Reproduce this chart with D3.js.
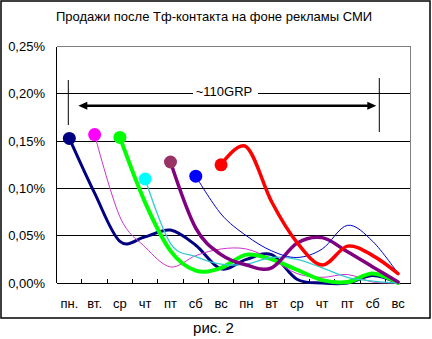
<!DOCTYPE html>
<html><head><meta charset="utf-8">
<script src="https://cdnjs.cloudflare.com/ajax/libs/d3/7.8.5/d3.min.js"></script>
<style>
html,body{margin:0;padding:0;background:#fff;}
svg{display:block;font-family:"Liberation Sans",Arial,sans-serif;}
</style></head>
<body>
<script>
const title = "Продажи после Тф-контакта на фоне рекламы СМИ";
const caption = "рис. 2";
const annotationText = "~110GRP";
const categories = ["пн.","вт.","ср","чт","пт","сб","вс","пн","вт","ср","чт","пт","сб","вс"];
const yTicks = [0, 0.05, 0.10, 0.15, 0.20, 0.25];
const navyValues    = [0.153,0.095,0.044,0.049,0.056,0.040,0.015,0.025,0.030,0.004,0.000,0.000,0.008,0.000];
const magentaValues = [null,0.157,0.070,0.038,0.017,0.029,0.036,0.036,0.025,0.010,0.006,0.009,0.001,0.000];
const greenValues   = [null,null,0.154,0.085,0.034,0.013,0.016,0.030,0.025,0.014,0.003,0.001,0.010,0.000];
const cyanValues    = [null,null,null,0.110,0.042,0.028,0.020,0.020,0.027,0.025,0.016,0.006,0.002,0.000];
const purpleValues  = [null,null,null,null,0.128,0.058,0.030,0.019,0.016,0.042,0.048,0.033,0.017,0.001];
const blueValues    = [null,null,null,null,null,0.113,0.073,0.050,0.034,0.027,0.036,0.061,0.044,0.010];
const redValues     = [null,null,null,null,null,null,0.125,0.144,0.086,0.043,0.019,0.039,0.029,0.010];

const seriesStyles = [
  {values: navyValues,    line:"#000080", marker:"#000080", w:3},
  {values: magentaValues, line:"#CC33CC", marker:"#FF00FF", w:1},
  {values: greenValues,   line:"#00FF00", marker:"#00FF00", w:4},
  {values: cyanValues,    line:"#33CCCC", marker:"#00FFFF", w:1.3},
  {values: purpleValues,  line:"#800080", marker:"#993366", w:3.5},
  {values: blueValues,    line:"#0000CC", marker:"#0000FF", w:1},
  {values: redValues,     line:"#FF0000", marker:"#FF0000", w:3.5}
];

const W = 432, H = 339;
const svg = d3.select("body").append("svg").attr("width", W).attr("height", H);

// outer frame
svg.append("rect").attr("x",1).attr("y",1).attr("width",429).attr("height",317)
  .attr("fill","#fff").attr("stroke","#000").attr("stroke-width",1.5);

const pLeft = 56.7, pRight = 410.7, pTop = 46.7, pBottom = 283;
const x = d3.scaleBand().domain(d3.range(categories.length)).range([pLeft, pRight]).paddingInner(0).paddingOuter(0);
const y = d3.scaleLinear().domain([0, 0.25]).range([pBottom, pTop]);
const cx = i => x(i) + x.bandwidth()/2;

// title
svg.append("text").attr("x", 214).attr("y", 21).attr("text-anchor","middle")
  .attr("font-size", 13).attr("fill","#000").text(title);

// gridlines
svg.append("g").selectAll("line").data(yTicks.filter(t => t > 0 && t < 0.25)).join("line")
  .attr("x1", pLeft).attr("x2", pRight).attr("y1", d => y(d)).attr("y2", d => y(d))
  .attr("stroke","#000").attr("stroke-width",1).attr("shape-rendering","crispEdges");

// plot area border (top & right gray)
svg.append("path").attr("d", `M${pLeft},${y(0.25)}H${pRight}V${pBottom}`)
  .attr("fill","none").attr("stroke","#808080").attr("stroke-width",1).attr("shape-rendering","crispEdges");

// y axis labels
const fmt = d => d3.format(".2f")(d).replace(".", ",") + "%";
svg.append("g").selectAll("text").data(yTicks).join("text")
  .attr("x", 45).attr("y", d => y(d) + 4.5).attr("text-anchor","end")
  .attr("font-size", 13).attr("fill","#000").text(fmt);

// x axis via d3 axis (labels), ticks at boundaries
const xAxis = d3.axisBottom(x).tickSize(0).tickPadding(0).tickFormat(i => categories[i]);
const gx = svg.append("g").attr("transform", `translate(0,${pBottom})`).call(xAxis);
gx.select(".domain").remove();
gx.selectAll("text").attr("font-size", 13).attr("font-family","Liberation Sans, Arial, sans-serif")
  .attr("fill","#000").attr("dy", null).attr("y", 24.5);
svg.append("g").selectAll("line").data(d3.range(1, categories.length)).join("line")
  .attr("x1", i => x(i)).attr("x2", i => x(i)).attr("y1", pBottom).attr("y2", pBottom - 4)
  .attr("stroke","#000").attr("shape-rendering","crispEdges");

// axes lines
svg.append("line").attr("x1", pLeft).attr("x2", pLeft).attr("y1", pTop).attr("y2", pBottom)
  .attr("stroke","#000").attr("shape-rendering","crispEdges");
svg.append("line").attr("x1", pLeft).attr("x2", pRight).attr("y1", pBottom).attr("y2", pBottom)
  .attr("stroke","#000").attr("shape-rendering","crispEdges");

// annotation: label over 0.20% gridline
const annY = y(0.20);
svg.append("rect").attr("x", 193).attr("y", annY - 8).attr("width", 65).attr("height", 14).attr("fill","#fff");
svg.append("text").attr("x", 224).attr("y", annY + 2).attr("text-anchor","middle")
  .attr("font-size", 13).attr("fill","#000").text(annotationText);
// vertical markers
svg.append("line").attr("x1", 68.3).attr("x2", 68.3).attr("y1", 80).attr("y2", 125).attr("stroke","#000");
svg.append("line").attr("x1", 379.3).attr("x2", 379.3).attr("y1", 78).attr("y2", 132).attr("stroke","#000");
// double arrow
const ay = 105.7, ax1 = 78.3, ax2 = 376.3;
svg.append("line").attr("x1", ax1 + 6).attr("x2", ax2 - 6).attr("y1", ay).attr("y2", ay)
  .attr("stroke","#000").attr("stroke-width",2.5);
svg.append("path").attr("d", `M${ax1},${ay}L${ax1+9},${ay-4}L${ax1+9},${ay+4}Z`).attr("fill","#000");
svg.append("path").attr("d", `M${ax2},${ay}L${ax2-9},${ay-4}L${ax2-9},${ay+4}Z`).attr("fill","#000");

// series
const line = d3.line().defined(d => d[1] !== null)
  .x(d => cx(d[0])).y(d => y(d[1])).curve(d3.curveCatmullRom.alpha(0));
seriesStyles.forEach(s => {
  const pts = s.values.map((v, i) => [i, v]).filter(d => d[1] !== null);
  svg.append("path").attr("d", line(pts)).attr("fill","none")
    .attr("stroke", s.line).attr("stroke-width", s.w).attr("stroke-linejoin","round").attr("stroke-linecap","round");
  const first = pts[0];
  svg.append("circle").attr("cx", cx(first[0])).attr("cy", y(first[1])).attr("r", 6.5).attr("fill", s.marker);
});

// caption
svg.append("text").attr("x", 213.5).attr("y", 333).attr("text-anchor","middle")
  .attr("font-size", 15).attr("fill","#000").text(caption);
</script>
</body></html>
